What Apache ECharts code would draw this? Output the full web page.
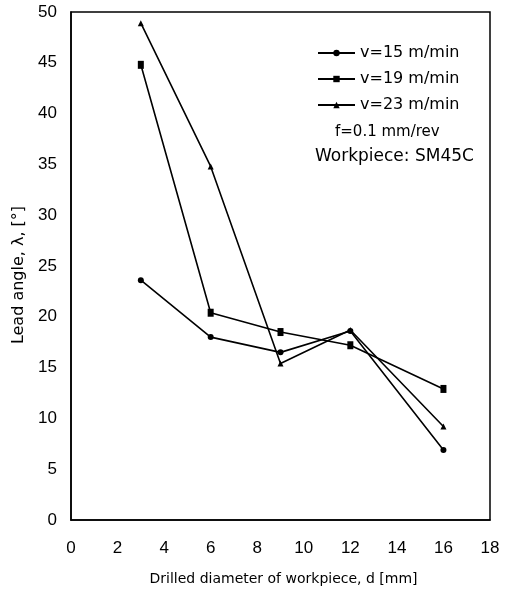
<!DOCTYPE html>
<html>
<head>
<meta charset="utf-8">
<script src="https://cdn.jsdelivr.net/npm/echarts@6/dist/echarts.min.js"></script>
<style>
html,body{margin:0;padding:0;background:#fff;}
#chart{width:512px;height:593px;}
</style>
</head>
<body>
<div id="chart"></div>
<script>
var diameters = [3, 6, 9, 12, 16];
var v15 = [23.6, 18.0, 16.5, 18.6, 6.9];
var v19 = [44.8, 20.4, 18.5, 17.2, 12.9];
var v23 = [48.9, 34.8, 15.4, 18.7, 9.2];
var seriesNames = ['v=15 m/min', 'v=19 m/min', 'v=23 m/min'];
var noteLines = ['f=0.1 mm/rev', 'Workpiece: SM45C'];

function pairs(arr) { return diameters.map(function (d, i) { return [d, arr[i]]; }); }

var chart = echarts.init(document.getElementById('chart'));
var font = 'Liberation Sans, Arial, sans-serif';
var wide = 'DejaVu Sans, sans-serif';
var lineStyle = { color: '#000', width: 1.6 };
chart.setOption({
  animation: false,
  backgroundColor: '#fff',
  textStyle: { fontFamily: font, color: '#000' },
  grid: { left: 71, top: 12, right: 22, bottom: 73, show: true, borderColor: '#000', borderWidth: 1.5 },
  xAxis: {
    type: 'value', min: 0, max: 18, interval: 2,
    name: 'Drilled diameter of workpiece, d [mm]',
    nameLocation: 'middle', nameGap: 52,
    nameTextStyle: { fontSize: 14, color: '#000', fontFamily: wide, padding: [0, 0, 0, 6] },
    axisLine: { show: true, lineStyle: { color: '#000', width: 1.5 } },
    axisTick: { show: false },
    axisLabel: { fontSize: 17, color: '#000', margin: 20, fontFamily: font },
    splitLine: { show: false }
  },
  yAxis: {
    type: 'value', min: 0, max: 50, interval: 5,
    name: 'Lead angle, λ, [°]',
    nameLocation: 'middle', nameGap: 43, nameRotate: 90,
    nameTextStyle: { fontSize: 16, color: '#000', fontFamily: wide, padding: [0, 18, 0, 0] },
    axisLine: { show: true, lineStyle: { color: '#000', width: 1.5 } },
    axisTick: { show: false },
    axisLabel: { fontSize: 17, color: '#000', margin: 14, fontFamily: font },
    splitLine: { show: false }
  },
  legend: {
    orient: 'vertical', left: 312, top: 40, itemGap: 10,
    itemWidth: 37, itemHeight: 8,
    textStyle: { fontSize: 16, color: '#000', fontFamily: wide },
    data: seriesNames
  },
  graphic: [
    { type: 'text', left: 335, top: 125, style: { text: noteLines[0], font: '15px ' + wide, fill: '#000' } },
    { type: 'text', left: 315, top: 148, style: { text: noteLines[1], font: '17px ' + wide, fill: '#000' } }
  ],
  series: [
    { name: seriesNames[0], type: 'line', data: pairs(v15), symbol: 'circle', symbolSize: 6,
      lineStyle: lineStyle, itemStyle: { color: '#000' } },
    { name: seriesNames[1], type: 'line', data: pairs(v19), symbol: 'rect', symbolSize: [6, 8],
      lineStyle: lineStyle, itemStyle: { color: '#000' } },
    { name: seriesNames[2], type: 'line', data: pairs(v23), symbol: 'triangle', symbolSize: 6,
      lineStyle: lineStyle, itemStyle: { color: '#000' } }
  ]
});
</script>
</body>
</html>
